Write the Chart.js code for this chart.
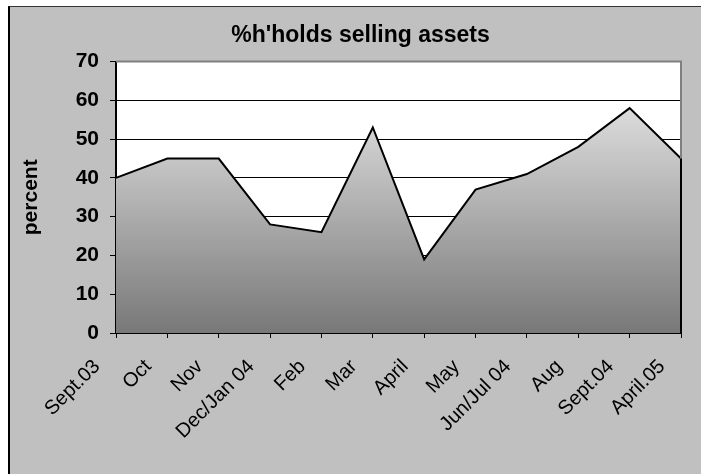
<!DOCTYPE html>
<html>
<head>
<meta charset="utf-8">
<script src="https://cdn.jsdelivr.net/npm/chart.js@4/dist/chart.umd.min.js"></script>
<style>
  html, body { margin: 0; padding: 0; background: #fff; overflow: hidden; }
  #frame {
    position: absolute; left: 8px; top: 6px;
    width: 691px; height: 467px;
    overflow: hidden;
    background: #c0c0c0;
    border-left: 2px solid #000;
    border-top: 1px solid #333;
  }
  canvas { display: block; }
</style>
</head>
<body>
<div id="frame"><canvas id="assetsChart" width="701" height="467"></canvas></div>
<script>
const months = ["Sept.03", "Oct", "Nov", "Dec/Jan 04", "Feb", "Mar", "April",
                "May", "Jun/Jul 04", "Aug", "Sept.04", "April.05"];
const sellingPct = [40, 45, 45, 28, 26, 53, 19, 37, 41, 48, 58, 45];
const yTicks = [0, 10, 20, 30, 40, 50, 60, 70];

const FONT = "'Liberation Sans', Arial, sans-serif";

// white plot background, grey frame on top/right, closing edge of the area
const plotFrame = {
  id: "plotFrame",
  beforeDraw(chart) {
    const { ctx, chartArea: a } = chart;
    ctx.save();
    ctx.fillStyle = "#fff";
    ctx.fillRect(a.left, a.top, a.right - a.left, a.bottom - a.top);
    ctx.restore();
  },
  afterDatasetsDraw(chart) {
    const { ctx, chartArea: a } = chart;
    const meta = chart.getDatasetMeta(0);
    const last = meta.data[meta.data.length - 1];
    ctx.save();
    ctx.strokeStyle = "#808080";
    ctx.lineWidth = 2;
    ctx.beginPath();
    ctx.moveTo(a.left, a.top);
    ctx.lineTo(a.right, a.top);
    ctx.lineTo(a.right, a.bottom);
    ctx.stroke();
    ctx.strokeStyle = "#000";
    ctx.beginPath();
    ctx.moveTo(last.x, last.y);
    ctx.lineTo(last.x, a.bottom);
    ctx.stroke();
    ctx.restore();
  }
};

new Chart(document.getElementById("assetsChart"), {
  type: "line",
  data: {
    labels: months,
    datasets: [{
      data: sellingPct,
      borderColor: "#000",
      borderWidth: 2,
      tension: 0,
      pointRadius: 0,
      fill: "origin",
      backgroundColor(context) {
        const chart = context.chart;
        const a = chart.chartArea;
        if (!a) return "#b0b0b0";
        const top = chart.scales.y.getPixelForValue(Math.max(...sellingPct));
        const g = chart.ctx.createLinearGradient(0, top, 0, a.bottom);
        g.addColorStop(0, "#dcdcdc");
        g.addColorStop(1, "#787878");
        return g;
      }
    }]
  },
  options: {
    responsive: false,
    animation: false,
    layout: { padding: 0 },
    plugins: {
      legend: { display: false },
      tooltip: { enabled: false },
      title: {
        display: true,
        text: "%h'holds selling assets",
        color: "#000",
        font: { family: FONT, size: 23, weight: "bold" },
        padding: { top: 15, bottom: 12 }
      }
    },
    scales: {
      x: {
        offset: false,
        grid: { drawOnChartArea: false, color: "#000", tickLength: 5, tickWidth: 1 },
        border: { color: "#000", width: 2 },
        ticks: {
          color: "#000",
          maxRotation: 45,
          minRotation: 45,
          autoSkip: false,
          padding: 17,
          labelOffset: -19,
          font: { family: FONT, size: 20 }
        },
        afterFit(scale) {
          scale.height = 141;
          scale.paddingLeft = 0;
          scale.paddingRight = 0;
        }
      },
      y: {
        min: 0,
        max: 70,
        afterBuildTicks(scale) { scale.ticks = yTicks.map(v => ({ value: v })); },
        grid: {
          color: ctx => (ctx.tick && ctx.tick.value === 70 ? "#808080" : "#000"),
          lineWidth: 1,
          tickLength: 6,
          tickColor: "#000"
        },
        border: { color: "#000", width: 2 },
        ticks: {
          color: "#000",
          padding: 11,
          font: { family: FONT, size: 21, weight: "bold" }
        },
        title: {
          display: true,
          text: "percent",
          color: "#000",
          padding: { top: 9, bottom: 0 },
          font: { family: FONT, size: 21, weight: "bold" }
        },
        afterFit(scale) { scale.width = 106; }
      },
      // empty right-hand strip between the plot and the frame edge
      yRight: {
        type: "linear",
        position: "right",
        grid: { display: false },
        border: { display: false },
        ticks: { display: false },
        afterFit(scale) { scale.width = 30; }
      }
    }
  },
  plugins: [plotFrame]
});
</script>
</body>
</html>
